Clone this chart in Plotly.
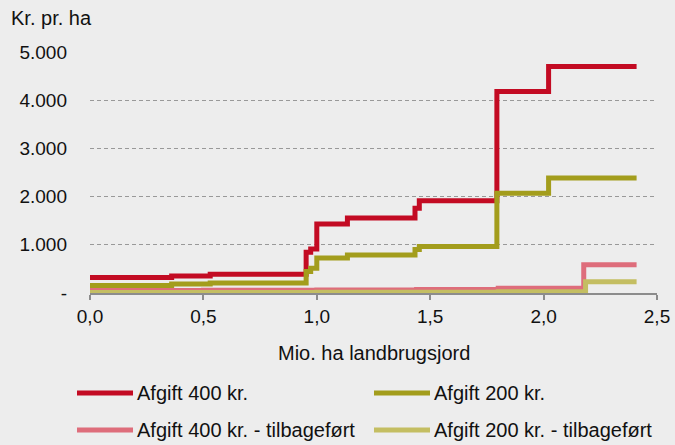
import plotly.graph_objects as go

# ---- data (step functions: value holds from each x until the next x) ----
series_names = ["Afgift 400 kr.", "Afgift 200 kr.",
                "Afgift 400 kr. - tilbageført", "Afgift 200 kr. - tilbageført"]

x_400 = [0.0, 0.36, 0.53, 0.953, 0.973, 1.0, 1.135, 1.433, 1.452, 1.794, 2.022, 2.41]
y_400 = [320, 355, 390, 845, 915, 1430, 1555, 1760, 1913, 4180, 4700, 4700]

x_200 = [0.0, 0.36, 0.53, 0.953, 0.973, 1.0, 1.135, 1.433, 1.452, 1.794, 2.022, 2.41]
y_200 = [155, 185, 205, 445, 515, 725, 790, 900, 965, 2072, 2384, 2384]

x_400_tb = [0.0, 0.5, 1.0, 1.44, 1.8, 2.177, 2.41]
y_400_tb = [50, 55, 60, 75, 100, 588, 588]

x_200_tb = [0.0, 1.0, 1.8, 2.185, 2.41]
y_200_tb = [10, 15, 25, 235, 235]

y_tickvals = [0, 1000, 2000, 3000, 4000, 5000]
y_ticktext = ["-", "1.000", "2.000", "3.000", "4.000", "5.000"]
x_tickvals = [0.0, 0.5, 1.0, 1.5, 2.0, 2.5]
x_ticktext = ["0,0", "0,5", "1,0", "1,5", "2,0", "2,5"]

colors = ["#C30B23", "#A39D1C", "#DE6D7B", "#C4BE62"]

# ---- layout constants ----
W, H = 675, 445
ML, MR, MT, MB = 90, 18, 52, 152
PW, PH = W - ML - MR, H - MT - MB
FONT = "Liberation Sans, Arial, sans-serif"
FS_TICK = 19
FS = 20
BG = "#EDEDED"
TXT = "#111111"


def px_x(px):
    return (px - ML) / PW


def px_y(py):
    return (H - MB - py) / PH


fig = go.Figure()
for xs, ys, name, col in zip([x_400, x_200, x_400_tb, x_200_tb],
                             [y_400, y_200, y_400_tb, y_200_tb],
                             series_names, colors):
    fig.add_trace(go.Scatter(x=xs, y=ys, mode="lines", name=name,
                             line=dict(color=col, width=5, shape="hv"),
                             cliponaxis=False, showlegend=False))

# custom legend (2 columns x 2 rows)
legend_pos = [(77, 393), (374, 393), (77, 430), (374, 430)]
shapes = []
annotations = []
for (lx, ly), name, col in zip(legend_pos, series_names, colors):
    shapes.append(dict(type="line", xref="paper", yref="paper",
                       x0=px_x(lx), x1=px_x(lx + 56), y0=px_y(ly), y1=px_y(ly),
                       line=dict(color=col, width=5)))
    annotations.append(dict(text=name, xref="paper", yref="paper",
                            x=px_x(lx + 58), y=px_y(ly), xanchor="left",
                            yanchor="middle", showarrow=False,
                            font=dict(family=FONT, size=FS, color=TXT)))

annotations.append(dict(text="Kr. pr. ha", xref="paper", yref="paper",
                        x=px_x(9), y=px_y(18), xanchor="left", yanchor="middle",
                        showarrow=False,
                        font=dict(family=FONT, size=FS, color=TXT)))
annotations.append(dict(text="Mio. ha landbrugsjord", xref="paper", yref="paper",
                        x=0.5, y=px_y(353), xanchor="center", yanchor="middle",
                        showarrow=False,
                        font=dict(family=FONT, size=FS, color=TXT)))

fig.update_layout(
    width=W, height=H,
    margin=dict(l=ML, r=MR, t=MT, b=MB, autoexpand=False),
    paper_bgcolor=BG, plot_bgcolor=BG,
    font=dict(family=FONT, size=FS, color=TXT),
    shapes=shapes, annotations=annotations,
    showlegend=False,
    xaxis=dict(range=[0, 2.5], tickvals=x_tickvals, ticktext=x_ticktext,
               showgrid=False, zeroline=False, showline=True, automargin=False,
               linecolor="#8C8C8C", linewidth=1.5,
               ticks="outside", ticklen=5, tickcolor="#8C8C8C", tickwidth=1.5,
               tickfont=dict(family=FONT, size=FS_TICK, color=TXT)),
    yaxis=dict(range=[0, 5000], tickvals=y_tickvals, ticktext=y_ticktext,
               showgrid=True, gridcolor="#999999", gridwidth=1,
               griddash="4px,3px", zeroline=False, showline=False, automargin=False,
               ticks="", ticklabelstandoff=22,
               tickfont=dict(family=FONT, size=FS_TICK, color=TXT)),
)

fig.write_html("out.html",
               config={"displayModeBar": False},
               post_script="document.body.style.margin='0';"
                           "document.body.style.background='" + BG + "';")
